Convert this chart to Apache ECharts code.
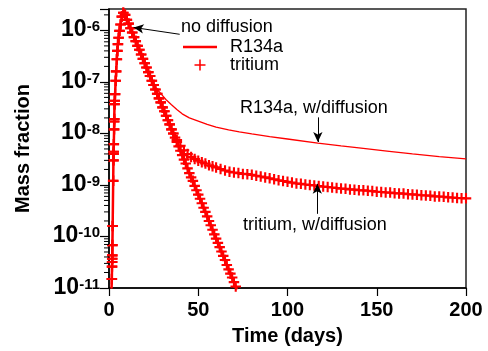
<!DOCTYPE html>
<html>
<head>
<meta charset="utf-8">
<script src="https://cdn.jsdelivr.net/npm/echarts@6/dist/echarts.min.js"></script>
<style>
html,body{margin:0;padding:0;background:#fff;}
#chart{width:488px;height:351px;}
</style>
</head>
<body>
<div id="chart"></div>
<script>
// ---- data ----
// rising limb (shared by all four curves)
const riseDays = [1.4,1.6,1.7,1.75,1.8,1.85,1.9,2.05,2.35,2.5,2.55,2.6,2.7,2.85,2.9,2.95,3.1,3.2,3.4,3.75,4.0,4.4,4.7,5.0,5.4,5.9,6.5,7.2,8.0];
const riseValues = [9.8e-12,1.5e-11,2.6e-11,3.2e-11,3.7e-11,4.3e-11,6.8e-11,1.6e-10,1.2e-9,3.0e-9,4.0e-9,4.4e-9,6.2e-9,1.2e-8,1.7e-8,1.9e-8,3.7e-8,4.3e-8,5.8e-8,1.05e-7,1.6e-7,2.75e-7,4.0e-7,5.4e-7,7.2e-7,9.8e-7,1.3e-6,1.85e-6,2.2e-6];

// decay without diffusion (R134a line and tritium markers overlap)
const decayDays = [9,10,11,12,13,14,15,16,17,18,19,20,21,22,23,24,25,26,27,28,29,30,31,32,33,34,35,36,37,38,39,40,41,42,43,44,45,46,47,48,49,50,51,52,53,54,55,56,57,58,59,60,61,62,63,64,65,66,67,68,69,70,71,72];
const decayNoDiff = [2.0e-6,1.6e-6,1.35e-6,1.1e-6,9.1e-7,7.4e-7,6.2e-7,5.0e-7,4.2e-7,3.4e-7,2.8e-7,2.3e-7,1.9e-7,1.55e-7,1.3e-7,1.05e-7,8.7e-8,7.1e-8,5.9e-8,4.8e-8,4.0e-8,3.2e-8,2.7e-8,2.2e-8,1.8e-8,1.5e-8,1.2e-8,1.0e-8,8.3e-9,6.8e-9,5.6e-9,4.6e-9,3.8e-9,3.1e-9,2.6e-9,2.1e-9,1.7e-9,1.4e-9,1.2e-9,9.6e-10,7.9e-10,6.5e-10,5.4e-10,4.4e-10,3.6e-10,3.0e-10,2.45e-10,2.0e-10,1.65e-10,1.35e-10,1.1e-10,9.1e-11,7.5e-11,6.2e-11,5.1e-11,4.2e-11,3.5e-11,2.8e-11,2.3e-11,1.9e-11,1.6e-11,1.3e-11,1.07e-11,8.7e-12];

// R134a with diffusion: tail after leaving the no-diffusion curve (after day 22)
const r134aDiffDays = [24,26,28,30,32,35,38,41,45,50,55,60,67,73,80,90,100,117,130,140,157,170,185,200];
const r134aDiffValues = [1.07e-7,7.9e-8,6.5e-8,5.4e-8,4.5e-8,3.6e-8,2.9e-8,2.4e-8,2.0e-8,1.74e-8,1.5e-8,1.32e-8,1.17e-8,1.07e-8,9.8e-9,8.7e-9,7.8e-9,6.5e-9,5.75e-9,5.25e-9,4.5e-9,4.0e-9,3.55e-9,3.2e-9];

// tritium with diffusion: tail after leaving the no-diffusion curve (after day 35)
const tritiumDiffDays = [36,38,40,42,44,46,48,50,52,54,56,58,
  60,62.5,65,67.5,70,72.5,75,77.5,80,82.5,85,87.5,90,92.5,95,97.5,100,102.5,105,107.5,110,112.5,115,117.5,120,122.5,125,127.5,130,
  132.5,135,137.5,140,142.5,145,147.5,150,152.5,155,157.5,160,162.5,165,167.5,170,172.5,175,177.5,180,182.5,185,187.5,190,192.5,195,197.5,200];
const tritiumDiffValues = [1.0e-8,7.4e-9,5.75e-9,4.7e-9,4.0e-9,3.5e-9,3.2e-9,2.95e-9,2.75e-9,2.6e-9,2.4e-9,2.3e-9,
  2.19e-9,2.04e-9,1.91e-9,1.80e-9,1.74e-9,1.70e-9,1.64e-9,1.62e-9,1.57e-9,1.51e-9,1.46e-9,1.40e-9,1.35e-9,1.29e-9,1.23e-9,1.19e-9,1.15e-9,1.11e-9,1.07e-9,1.05e-9,1.02e-9,1.0e-9,9.8e-10,9.55e-10,9.3e-10,9.1e-10,8.9e-10,8.7e-10,8.5e-10,
  8.4e-10,8.2e-10,8.1e-10,7.9e-10,7.85e-10,7.7e-10,7.6e-10,7.4e-10,7.3e-10,7.15e-10,7.1e-10,6.9e-10,6.85e-10,6.8e-10,6.6e-10,6.55e-10,6.45e-10,6.3e-10,6.25e-10,6.2e-10,6.0e-10,5.95e-10,5.9e-10,5.75e-10,5.7e-10,5.6e-10,5.55e-10,5.5e-10];

const xTicks = [0, 50, 100, 150, 200];
const legendNames = ['R134a', 'tritium'];
const annotationTexts = ['no diffusion', 'R134a, w/diffusion', 'tritium, w/diffusion'];
// arrow anchors in data space: [fromX, fromY, toX, toY]
const arrowAnchors = [
  [39.6, 8.4e-7, 13.8, 1.14e-6],
  [117, 2.05e-8, 117, 6.8e-9],
  [116.7, 2.75e-10, 116.7, 1.05e-9]
];
// minor log ticks 2..9 x 10^n
const minorTickValues = [];
for (let e = -11; e <= -6; e++) {
  for (let k = 2; k <= 9; k++) minorTickValues.push(k * Math.pow(10, e));
}

// ---- build series ----
function zip(xs, ys) { return xs.map((x, i) => [x, ys[i]]); }
const noDiffData = zip(riseDays.concat(decayDays), riseValues.concat(decayNoDiff));
const r134aDiffData = zip(riseDays.concat(decayDays.slice(0, 14), r134aDiffDays),
                          riseValues.concat(decayNoDiff.slice(0, 14), r134aDiffValues));
const tritiumDiffData = zip(riseDays.concat(decayDays.slice(0, 27), tritiumDiffDays),
                            riseValues.concat(decayNoDiff.slice(0, 27), tritiumDiffValues));

const RED = '#ff0000';
const FONT = '"Liberation Sans", Arial, Helvetica, sans-serif';
const PLUS = 'path://M4,0 H6 V4 H10 V6 H6 V10 H4 V6 H0 V4 H4 Z';
const PLUS_THIN = 'path://M4.3,0 H5.7 V4.3 H10 V5.7 H5.7 V10 H4.3 V5.7 H0 V4.3 H4.3 Z';
const LINE_ICON = 'path://M0,0 H34 V2.6 H0 Z';

const chart = echarts.init(document.getElementById('chart'), null, {renderer: 'canvas'});

const option = {
  animation: false,
  backgroundColor: '#fff',
  textStyle: {fontFamily: FONT},
  grid: {left: 109, right: 22, top: 9, bottom: 62, show: true, borderColor: '#222', borderWidth: 1.5, backgroundColor: 'transparent'},
  legend: {
    data: [{name: legendNames[0], icon: LINE_ICON}, {name: legendNames[1], icon: PLUS_THIN}],
    orient: 'vertical',
    left: 183, top: 37, padding: 0,
    itemWidth: 34, itemHeight: 11, itemGap: -2,
    symbolKeepAspect: true,
    selectedMode: false,
    textStyle: {fontFamily: FONT, fontSize: 18, color: '#000', lineHeight: 20, padding: [0, 0, 0, 8]}
  },
  xAxis: {
    type: 'value', min: 0, max: 200, interval: 50,
    name: 'Time (days)', nameLocation: 'middle', nameGap: 38,
    nameTextStyle: {fontFamily: FONT, fontSize: 20, fontWeight: 'bold', color: '#000'},
    axisLine: {show: true, lineStyle: {color: '#000', width: 1.5}},
    axisTick: {show: true, inside: false, length: 8, lineStyle: {color: '#000', width: 1.2}},
    axisLabel: {color: '#000', fontSize: 20, fontWeight: 'bold', margin: 12, fontFamily: FONT},
    splitLine: {show: false}
  },
  yAxis: {
    type: 'log', logBase: 10, min: 1e-11, max: 2.6e-6,
    name: 'Mass fraction', nameLocation: 'middle', nameGap: 76,
    nameTextStyle: {fontFamily: FONT, fontSize: 20, fontWeight: 'bold', color: '#000'},
    axisLine: {show: true, lineStyle: {color: '#000', width: 1.5}},
    axisTick: {show: true, inside: false, length: 9, lineStyle: {color: '#000', width: 1.2}},
    splitLine: {show: false},
    axisLabel: {
      margin: 9,
      formatter: function (v) {
        const l = Math.log10(v);
        const e = Math.round(l);
        if (Math.abs(l - e) > 0.01) return '';
        return '{b|10}{s|' + e + '}';
      },
      rich: {
        b: {fontFamily: FONT, fontSize: 23, fontWeight: 'bold', color: '#000', lineHeight: 22, padding: [3, 0, 0, 0], verticalAlign: 'bottom'},
        s: {fontFamily: FONT, fontSize: 15, fontWeight: 'bold', color: '#000', lineHeight: 15, verticalAlign: 'top'}
      }
    }
  },
  graphic: [
    {type: 'text', x: 181, y: 27, silent: true,
     style: {text: annotationTexts[0], fill: '#000', font: '18px ' + FONT, align: 'left', verticalAlign: 'middle'}},
    {type: 'text', x: 240, y: 108.5, silent: true,
     style: {text: annotationTexts[1], fill: '#000', font: '18px ' + FONT, align: 'left', verticalAlign: 'middle'}},
    {type: 'text', x: 243, y: 225, silent: true,
     style: {text: annotationTexts[2], fill: '#000', font: '18px ' + FONT, align: 'left', verticalAlign: 'middle'}}
  ],
  series: [
    {
      name: 'R134a w/diffusion', type: 'line', data: r134aDiffData,
      symbol: 'none', showSymbol: false, clip: true, z: 2,
      lineStyle: {color: RED, width: 1.3},
      markLine: {
        silent: true, symbol: ['none', 'arrow'], symbolSize: [7, 10],
        label: {show: false},
        lineStyle: {color: '#000', width: 1, type: 'solid'},
        itemStyle: {color: '#000'},
        data: arrowAnchors.map(a => [{coord: [a[0], a[1]]}, {coord: [a[2], a[3]]}])
      }
    },
    {
      name: 'R134a', type: 'line', data: noDiffData,
      symbol: 'none', showSymbol: false, clip: true, z: 2,
      lineStyle: {color: RED, width: 2.5},
      itemStyle: {color: RED}
    },
    {
      name: 'tritium', type: 'scatter', data: noDiffData,
      symbol: PLUS, symbolSize: 10.5, clip: true, z: 3,
      itemStyle: {color: RED, opacity: 1}
    },
    {
      name: 'tritium w/diffusion', type: 'scatter', data: tritiumDiffData,
      symbol: PLUS, symbolSize: 10.5, clip: true, z: 3,
      itemStyle: {color: RED, opacity: 1}
    },
    {
      name: 'minor ticks', type: 'custom', clip: false, silent: true, z: 5,
      data: minorTickValues.filter(v => v <= 2.6e-6).map(v => [0, v]),
      renderItem: function (params, api) {
        const p = api.coord([0, api.value(1)]);
        return {type: 'line', shape: {x1: p[0] - 5, y1: p[1], x2: p[0], y2: p[1]},
                style: {stroke: '#000', lineWidth: 1}};
      }
    }
  ]
};
chart.setOption(option);
</script>
</body>
</html>
